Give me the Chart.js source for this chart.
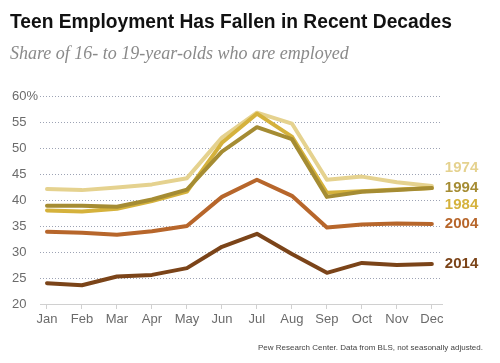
<!DOCTYPE html>
<html>
<head>
<meta charset="utf-8">
<script src="https://cdn.jsdelivr.net/npm/chart.js@4/dist/chart.umd.min.js"></script>
<style>
  html, body { margin: 0; padding: 0; background: #fff; }
  #wrap { position: relative; width: 500px; height: 363px; overflow: hidden; }
  #c { position: absolute; left: 0; top: 0; }
  .title { position: absolute; left: 10px; top: 11px; font: bold 20px "Liberation Sans", Arial, sans-serif; line-height: 20px; color: #111; white-space: nowrap; transform: scaleX(0.961); transform-origin: 0 0; }
  .sub { position: absolute; left: 10px; top: 44px; font: italic 18px "Liberation Serif", serif; line-height: 18px; color: #8a8a8a; white-space: nowrap; }
  .foot { position: absolute; right: 17px; top: 344px; font: 8px "Liberation Sans", Arial, sans-serif; line-height: 8px; color: #444; white-space: nowrap; }
</style>
</head>
<body>
<div id="wrap">
  <canvas id="c" width="500" height="363"></canvas>
  <div class="title">Teen Employment Has Fallen in Recent Decades</div>
  <div class="sub">Share of 16- to 19-year-olds who are employed</div>
  <div class="foot">Pew Research Center. Data from BLS, not seasonally adjusted.</div>
</div>
<script>
const months = ['Jan','Feb','Mar','Apr','May','Jun','Jul','Aug','Sep','Oct','Nov','Dec'];
const yTicks = [20, 25, 30, 35, 40, 45, 50, 55, 60];
const years = ['1974', '1984', '1994', '2004', '2014'];
const y1974 = [42.1, 41.9, 42.4, 43.0, 44.2, 52.0, 56.8, 54.7, 43.9, 44.5, 43.4, 42.7];
const y1984 = [38.0, 37.8, 38.3, 39.8, 41.6, 51.0, 56.6, 52.2, 41.4, 41.7, 42.0, 42.3];
const y1994 = [38.9, 38.9, 38.7, 40.1, 42.0, 49.3, 54.0, 51.7, 40.6, 41.6, 41.9, 42.3];
const y2004 = [33.9, 33.7, 33.3, 34.0, 35.0, 40.6, 43.9, 40.8, 34.7, 35.3, 35.5, 35.4];
const y2014 = [24.0, 23.6, 25.3, 25.6, 26.9, 31.0, 33.5, 29.6, 26.0, 27.9, 27.5, 27.7];

const seriesValues = [y1974, y1984, y1994, y2004, y2014];
const colors = ['#e5d28f', '#d5b23c', '#a58c33', '#b7662b', '#7b4419'];
const labelOffsets = [-18, 17, 0, 0, 0];
const drawOrder = [5, 3, 2, 1, 0];

const datasets = years.map((yr, i) => ({
  label: yr,
  data: seriesValues[i].map((v, j) => ({ x: j, y: v })),
  borderColor: colors[i],
  backgroundColor: colors[i],
  borderWidth: 4,
  pointRadius: 0,
  tension: 0,
  borderJoinStyle: 'round',
  borderCapStyle: 'round',
  order: drawOrder[i],
  fill: false
}));

const endLabels = {
  id: 'endLabels',
  afterDatasetsDraw(chart) {
    const ctx = chart.ctx;
    const xs = chart.scales.x, ys = chart.scales.y;
    ctx.save();
    ctx.font = 'bold 15px "Liberation Sans", Arial, sans-serif';
    ctx.textAlign = 'left';
    ctx.textBaseline = 'middle';
    chart.data.datasets.forEach((ds, i) => {
      const last = ds.data[ds.data.length - 1];
      const px = xs.getPixelForValue(last.x) + 13;
      const py = ys.getPixelForValue(last.y) + labelOffsets[i];
      ctx.fillStyle = colors[i];
      ctx.fillText(ds.label, px, py);
    });
    ctx.restore();
  }
};

new Chart(document.getElementById('c'), {
  type: 'line',
  data: { datasets },
  options: {
    responsive: false,
    animation: false,
    events: [],
    layout: { padding: { left: 12, right: 58, top: 96, bottom: 0 } },
    plugins: { legend: { display: false }, tooltip: { enabled: false }, title: { display: false } },
    scales: {
      x: {
        type: 'linear',
        min: -0.2,
        max: 11.29,
        afterBuildTicks(scale) { scale.ticks = months.map((m, i) => ({ value: i })); },
        ticks: {
          callback: (v) => months[v],
          color: '#6b6b6b',
          font: { family: '"Liberation Sans", Arial, sans-serif', size: 13 },
          padding: 3,
          maxRotation: 0,
          autoSkip: false
        },
        grid: { drawOnChartArea: false, drawTicks: true, tickLength: 5, color: '#d0d0d0', lineWidth: 1 },
        border: { display: true, color: '#d0d0d0', width: 1 },
        afterFit(scale) { scale.height = 59; }
      },
      y: {
        min: 20,
        max: 60,
        afterBuildTicks(scale) { scale.ticks = yTicks.map(v => ({ value: v })); },
        ticks: {
          callback: (v) => v === 60 ? v + '%' : String(v),
          color: '#6b6b6b',
          font: { family: '"Liberation Sans", Arial, sans-serif', size: 13 },
          crossAlign: 'far',
          padding: 4
        },
        grid: {
          drawTicks: false,
          color: (c) => c.tick && c.tick.value === 20 ? 'rgba(0,0,0,0)' : '#9da3b4',
          lineWidth: 1
        },
        border: { display: false, dash: [1, 2] },
        afterFit(scale) { scale.width = 28; }
      }
    }
  },
  plugins: [endLabels]
});
</script>
</body>
</html>
